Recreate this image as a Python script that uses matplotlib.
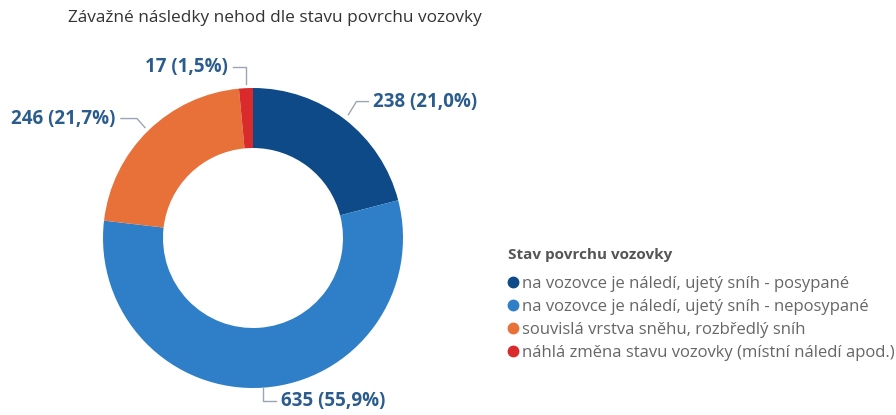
import matplotlib.pyplot as plt
from matplotlib.lines import Line2D
import numpy as np

# data
categories = ["na vozovce je náledí, ujetý sníh - posypané",
              "na vozovce je náledí, ujetý sníh - neposypané",
              "souvislá vrstva sněhu, rozbředlý sníh",
              "náhlá změna stavu vozovky (místní náledí apod.)"]
counts = [238, 635, 246, 17]
shares = ["21,0", "55,9", "21,7", "1,5"]
colors = ["#0d4a87", "#2f7fc8", "#e8713a", "#d92b2b"]

plt.rcParams['font.family'] = ['Open Sans', 'DejaVu Sans']

W, H = 896, 415
fig = plt.figure(figsize=(W / 100, H / 100), dpi=100)
ax = fig.add_axes([0, 0, 1, 1])

cx, cy, R = 253, H - 238, 150
wedges, _ = ax.pie(counts, colors=colors, startangle=90, counterclock=False,
                   center=(cx, cy), radius=R, frame=True,
                   wedgeprops=dict(width=60, linewidth=0))
ax.set_xlim(0, W)
ax.set_ylim(0, H)
ax.axis('off')

fig.text(68 / W, 1 - 18 / H, "Závažné následky nehod dle stavu povrchu vozovky",
         fontsize=12.4, color="#333333", va='center', ha='left')

# leader lines: (start radius factor, elbow dx, elbow dy, horizontal run, gap)
leaders = [
    (1.04, 8, 13, 12, 5),
    (1.0, 0, -13, 13, 5),
    (1.03, -8, 9, -16, -6),
    (1.03, 0, 17, -13, -5),
]
lc = "#9aa5b1"
for w, n, s, (rf, ex, ey, hx, gap) in zip(wedges, counts, shares, leaders):
    ang = np.deg2rad((w.theta1 + w.theta2) / 2)
    x0 = cx + R * rf * np.cos(ang)
    y0 = cy + R * rf * np.sin(ang)
    x1, y1 = x0 + ex, y0 + ey
    x2 = x1 + hx
    ax.plot([x0, x1, x2], [y0, y1, y1], color=lc, lw=1)
    ha = 'left' if hx > 0 else 'right'
    ax.text(x2 + gap, y1, f"{n} ({s}%)", ha=ha, va='center',
            fontsize=13.5, fontweight='bold', color="#2b5c8e")

fig.text(508 / W, 1 - 255 / H, "Stav povrchu vozovky", fontsize=11,
         fontweight='bold', color="#555555", va='center', ha='left')

handles = [Line2D([], [], marker='o', linestyle='', markersize=7.5,
                  markerfacecolor=c, markeredgecolor=c) for c in colors]
leg = fig.legend(handles, categories,
                 loc='upper left', bbox_to_anchor=(505 / W, 1 - 276 / H),
                 frameon=False, fontsize=12, labelcolor="#666666",
                 handletextpad=0.0, handlelength=1.0, labelspacing=0.42,
                 borderaxespad=0, borderpad=0)

fig.savefig("out.png", dpi=100)
